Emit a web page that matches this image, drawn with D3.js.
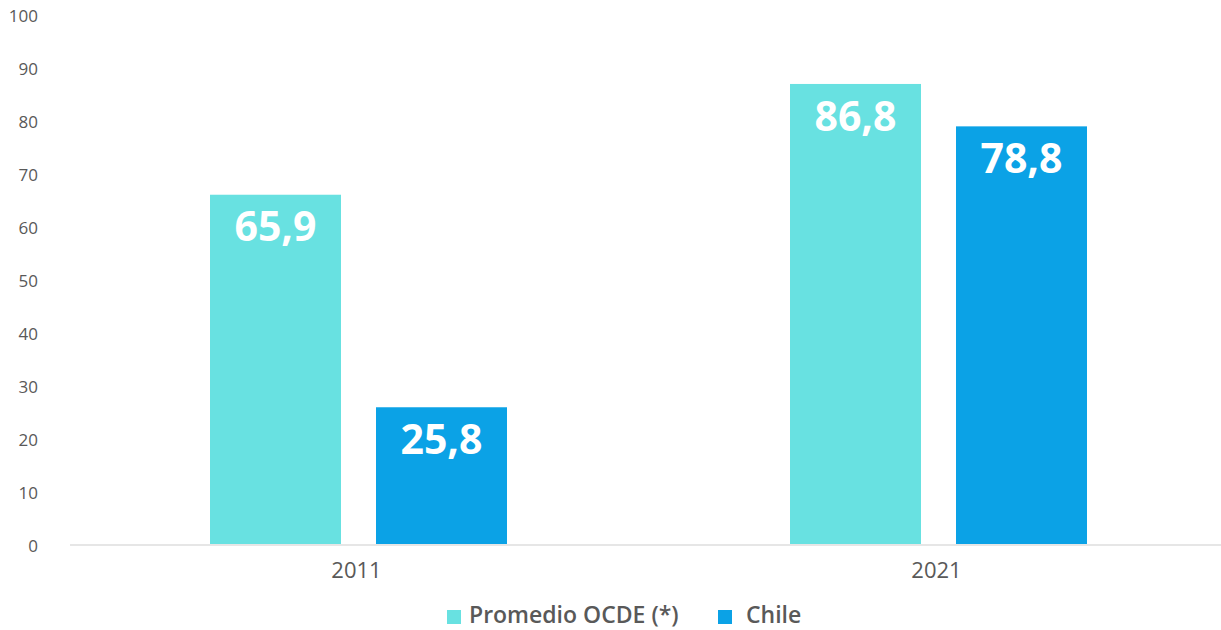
<!DOCTYPE html>
<html><head><meta charset="utf-8">
<script src="https://cdn.jsdelivr.net/npm/d3@7"></script>
<style>body{margin:0;background:#fff;} svg{display:block;font-family:"Open Sans",sans-serif;}</style>
</head><body><svg id="c" width="1221" height="630"></svg>
<script>
const categories = ["2011", "2021"];
const seriesNames = ["Promedio OCDE (*)", "Chile"];
const ocde = [65.9, 86.8];
const chile = [25.8, 78.8];
const yTicks = [0, 10, 20, 30, 40, 50, 60, 70, 80, 90, 100];
const colors = ["#68E1E1", "#0BA2E6"];

const svg = d3.select("#c");
const x0 = d3.scaleBand().domain(categories).range([68.5, 1228.5]).paddingInner(0).paddingOuter(0);
const x1 = d3.scaleBand().domain(seriesNames).range([141.5, 438.5]).paddingInner(35 / 166).paddingOuter(0);
const y = d3.scaleLinear().domain([0, 100]).range([544, 14]);

// y labels
const yAxis = d3.axisLeft(y).tickValues(yTicks).tickSize(0).tickPadding(0);
const gy = svg.append("g").attr("transform", "translate(38,0)").call(yAxis);
gy.select(".domain").remove();
gy.selectAll("text").attr("font-size", 17).attr("fill", "#595959").attr("dy", "0.42em").attr("font-family", "Open Sans");

// bars
const data = categories.map((c, i) => ({cat: c, vals: [ocde[i], chile[i]]}));
const groups = svg.append("g").selectAll("g").data(data).join("g")
  .attr("transform", d => `translate(${x0(d.cat)},0)`);
groups.selectAll("rect").data(d => d.vals.map((v, j) => ({v, j})))
  .join("rect")
  .attr("x", d => x1(seriesNames[d.j]))
  .attr("width", x1.bandwidth())
  .attr("y", d => y(d.v))
  .attr("height", d => y(0) - y(d.v))
  .attr("fill", d => colors[d.j]);
groups.selectAll("text").data(d => d.vals.map((v, j) => ({v, j})))
  .join("text")
  .attr("x", d => x1(seriesNames[d.j]) + x1.bandwidth() / 2)
  .attr("y", d => y(d.v) + 32)
  .attr("dy", "0.36em")
  .attr("text-anchor", "middle")
  .attr("fill", "#fff")
  .attr("font-size", 41)
  .attr("font-weight", 700)
  .text(d => d3.format(".1f")(d.v).replace(".", ","));

// x axis
svg.append("line").attr("x1", 70).attr("x2", 1221).attr("y1", 545).attr("y2", 545)
  .attr("stroke", "#e6e6e6").attr("stroke-width", 2);
const xAxis = d3.axisBottom(x0).tickSize(0).tickPadding(0);
const gx = svg.append("g").attr("transform", "translate(0,544)").call(xAxis);
gx.select(".domain").remove();
gx.selectAll("text").attr("font-size", 22).attr("fill", "#595959").attr("y", 34).attr("dy", "0").attr("font-family", "Open Sans")
  .attr("dx", -2);

// legend
const legend = svg.append("g");
const legX = [447, 718];
const legTX = [469, 746];
seriesNames.forEach((s, i) => {
  legend.append("rect").attr("x", legX[i]).attr("y", 610).attr("width", 14).attr("height", 14).attr("fill", colors[i]);
  legend.append("text").attr("x", legTX[i]).attr("y", 623).attr("font-size", 23).attr("font-weight", 600)
    .attr("fill", "#595959").text(s);
});
</script></body></html>
